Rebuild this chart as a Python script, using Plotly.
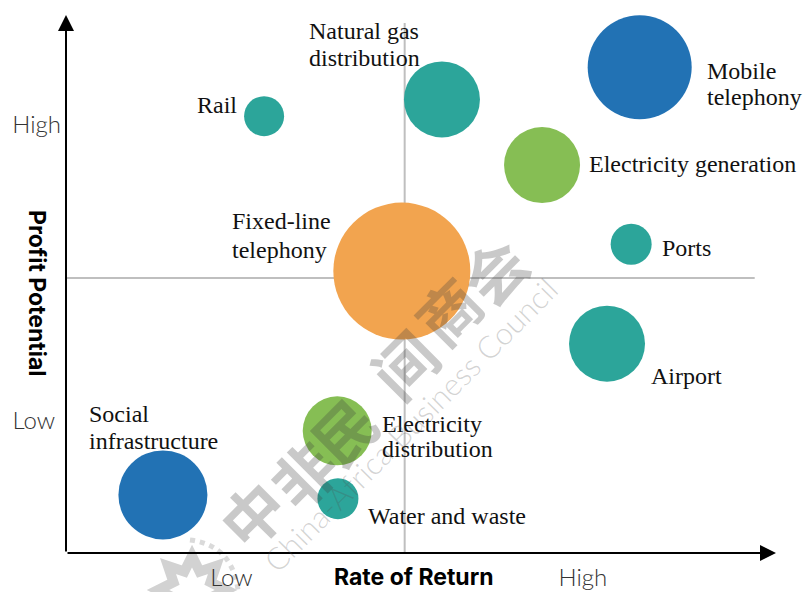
import math
import plotly.graph_objects as go

# Values on a 0-100 index for each axis
names = ["Mobile telephony", "Natural gas distribution", "Rail", "Electricity generation", "Ports",
         "Fixed-line telephony", "Airport", "Electricity distribution", "Water and waste", "Social infrastructure"]
rate_of_return = [80.8, 52.95, 27.9, 67.05, 79.6, 47.3, 76.2, 38.2, 38.3, 13.65]
profit_potential = [90.3, 84.3, 81.2, 72.1, 57.4, 52.4, 38.9, 22.7, 10.1, 10.8]
bubble_size = [104, 76, 40, 76, 41, 137, 76, 69, 41, 89]
bubble_color = ["#2272B4", "#2CA59A", "#2CA59A", "#86BE54", "#2CA59A", "#F2A44F", "#2CA59A", "#86BE54", "#2CA59A", "#2272B4"]

label_text = ["Mobile", "telephony", "Natural gas", "distribution", "Rail", "Electricity generation", "Ports",
              "Fixed-line", "telephony", "Airport", "Electricity", "distribution", "Water and waste", "Social", "infrastructure"]
label_x = [90.3, 90.3, 34.2, 34.2, 18.5, 73.7, 84.0, 23.4, 23.4, 82.4, 44.5, 44.5, 42.6, 3.3, 3.3]
label_y = [89.6, 84.8, 97.0, 92.0, 83.2, 72.3, 56.7, 61.7, 56.3, 32.9, 24.0, 19.4, 6.9, 25.8, 20.8]

x_tick_vals = [23.3, 72.8]
y_tick_vals = [79.6, 24.6]
tick_text = ["Low", "High"]
y_tick_text = ["High", "Low\u00a0"]


def px(x):
    return (x - 66) / 710


def py(y):
    return (553 - y) / 538


fig = go.Figure()

# watermark emblem, partly cut by the page edge
star = []
for i in range(16):
    r = 34 if i % 2 == 0 else 20
    a = math.pi * i / 8
    star.append((px(192 + r * math.sin(a)), py(590 - r * math.cos(a))))
star_path = "M " + " L ".join(f"{a:.4f} {b:.4f}" for a, b in star) + " Z"
fig.add_shape(type="path", xref="paper", yref="paper", path=star_path, layer="below",
              line=dict(color="#D2D2D2", width=10))
fig.add_shape(type="path", xref="paper", yref="paper", layer="below",
              path=f"M {px(190):.4f} {py(540):.4f} Q {px(232):.4f} {py(545):.4f} {px(238):.4f} {py(590):.4f}",
              line=dict(color="#DADADA", width=5, dash="dot"))

fig.add_trace(go.Scatter(
    x=rate_of_return, y=profit_potential, mode="markers", text=names, hoverinfo="text",
    marker=dict(size=bubble_size, sizemode="diameter", color=bubble_color, opacity=1, line=dict(width=0)),
    showlegend=False, cliponaxis=False))

for t, x, y in zip(label_text, label_x, label_y):
    fig.add_annotation(x=x, y=y, text=t, showarrow=False, xanchor="left", yanchor="middle", align="left",
                       xshift=-2, font=dict(family="Liberation Serif", size=24, color="#111111"))

# quadrant lines
fig.add_shape(type="line", x0=47.7, x1=47.7, y0=0, y1=98.5, line=dict(color="#BFBFBF", width=2), layer="below")
fig.add_shape(type="line", x0=0, x1=97, y0=51.1, y1=51.1, line=dict(color="#BFBFBF", width=2), layer="below")

# axis arrows
fig.add_annotation(x=100, y=0, ax=0, ay=0, xref="x", yref="y", axref="x", ayref="y", text="", showarrow=True,
                   arrowhead=2, arrowsize=1.6, arrowwidth=2, arrowcolor="#000000", standoff=0)
fig.add_annotation(x=0, y=100, ax=0, ay=0, xref="x", yref="y", axref="x", ayref="y", text="", showarrow=True,
                   arrowhead=2, arrowsize=1.6, arrowwidth=2, arrowcolor="#000000", standoff=0)

# axis titles
fig.add_annotation(x=px(414), y=py(577), xref="paper", yref="paper", text="<b>Rate of Return</b>", showarrow=False,
                   font=dict(family="Inter", size=23, color="#000000"), xanchor="center", yanchor="middle")
fig.add_annotation(xref="paper", yref="paper", x=px(37), y=py(293), text="<b>Profit Potential</b>", showarrow=False,
                   textangle=90, font=dict(family="Inter", size=23, color="#000000"), xanchor="center", yanchor="middle")

# watermark
wm_chars = ["中", "非", "民", "间", "商", "会"]
wm_px = [251, 302, 343, 403, 447, 493]
wm_py = [513, 473, 430, 363, 310, 270]
for c, a, b in zip(wm_chars, wm_px, wm_py):
    fig.add_annotation(x=px(a), y=py(b), xref="paper", yref="paper", text="<b>" + c + "</b>", showarrow=False,
                       xanchor="center", yanchor="middle", textangle=-45,
                       font=dict(family="Noto Sans CJK SC", size=62, color="rgba(60,60,60,0.28)"))
fig.add_annotation(x=px(410), y=py(425), xref="paper", yref="paper", text="China-Africa Business Council",
                   showarrow=False, textangle=-45, xanchor="center", yanchor="middle",
                   font=dict(family="Lato", size=31, weight=300, color="rgba(80,80,80,0.25)"))

fig.update_layout(
    width=803, height=592, paper_bgcolor="white", plot_bgcolor="white",
    margin=dict(l=66, r=27, t=15, b=39, autoexpand=False),
    xaxis=dict(range=[0, 100], showgrid=False, zeroline=False, showline=False, tickmode="array", automargin=False,
               tickvals=x_tick_vals, ticktext=tick_text, ticks="", ticklabelstandoff=8,
               tickfont=dict(family="Lato", size=24, weight=300, color="#333333")),
    yaxis=dict(range=[0, 100], showgrid=False, zeroline=False, showline=False, tickmode="array", automargin=False,
               tickvals=y_tick_vals, ticktext=y_tick_text, ticks="", ticklabelstandoff=4,
               tickfont=dict(family="Lato", size=24, weight=300, color="#333333")),
)
fig.write_html("out.html", post_script="document.body.style.margin='0';", config={"displayModeBar": False})
